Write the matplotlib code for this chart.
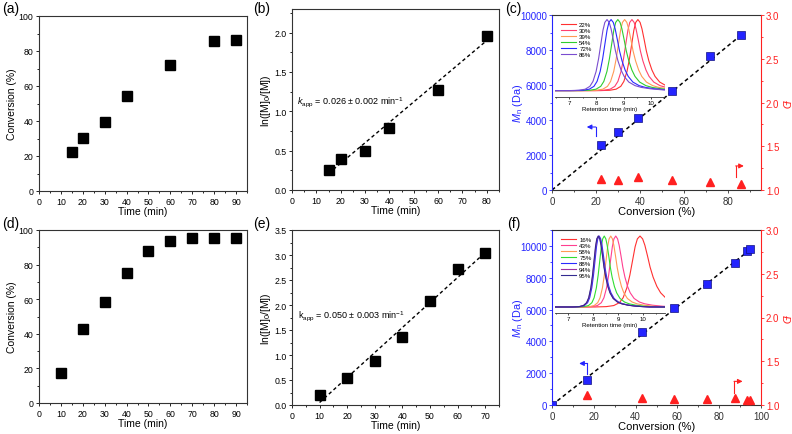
import numpy as np
import matplotlib
matplotlib.use('Agg')
from matplotlib import pyplot as plt
from matplotlib.ticker import MultipleLocator

plt.rcParams['font.family'] = ['Liberation Sans', 'DejaVu Sans']
plt.rcParams['mathtext.fontset'] = 'custom'
plt.rcParams['mathtext.rm'] = 'Liberation Sans'
plt.rcParams['mathtext.it'] = 'Liberation Sans:italic'

BLUE = '#2424ff'
RED = '#ff2020'

# ---- data ----
# (a) conversion vs time, run 1
time_a = [15, 20, 30, 40, 60, 80, 90]
conv_a = [22.4, 30.4, 39.2, 54.4, 71.9, 85.7, 86.5]
# (b) first order plot, run 1
time_b = [15, 20, 30, 40, 60, 80]
lnm_b = [0.25, 0.39, 0.50, 0.79, 1.27, 1.96]
fit_b = [0.026, -0.18]      # slope, intercept
fit_b_range = [15, 80]
# (c) Mn and dispersity vs conversion, run 1
conv_c = [22.4, 30.2, 39.2, 54.4, 71.9, 85.7]
mn_c = [2600, 3330, 4140, 5630, 7640, 8850]
disp_c = [1.13, 1.12, 1.15, 1.11, 1.09, 1.07]
mn_slope_c = 103
mn_range_c = [0, 86]
# GPC traces in (c) inset
gpc_c_labels = ['22%', '30%', '39%', '54%', '72%', '86%']
gpc_c_peaks = [9.53, 9.31, 9.04, 8.79, 8.54, 8.39]
gpc_c_widths = [1.15, 1.15, 1.15, 1.15, 1.15, 1.15]
gpc_c_colors = ['#ff3030', '#ff4070', '#ff9a55', '#30cc30', '#2a2aff', '#7a4ccf']

# (d) conversion vs time, run 2
time_d = [10, 20, 30, 40, 50, 60, 70, 80, 90]
conv_d = [17.6, 42.9, 58.6, 74.9, 88.0, 93.8, 95.4, 95.6, 95.6]
# (e) first order plot, run 2
time_e = [10, 20, 30, 40, 50, 60, 70]
lnm_e = [0.21, 0.55, 0.88, 1.37, 2.08, 2.73, 3.05]
fit_e = [0.050, -0.45]
fit_e_range = [10, 70]
# (f) Mn and dispersity vs conversion, run 2
conv_f_mn = [0, 16.6, 42.9, 58.6, 74.4, 87.5, 93.4, 94.6]
mn_f = [0, 1600, 4600, 6090, 7600, 8900, 9700, 9830]
conv_f_d = [16.9, 43.0, 58.2, 74.2, 87.4, 93.1, 94.8]
disp_f = [1.12, 1.08, 1.07, 1.065, 1.08, 1.055, 1.06]
mn_slope_f = 103
mn_range_f = [0, 95]
gpc_f_labels = ['16%', '43%', '58%', '75%', '88%', '94%', '95%']
gpc_f_peaks = [9.87, 8.90, 8.70, 8.44, 8.24, 8.21, 8.20]
gpc_f_widths = [1.5, 1.05, 0.95, 0.9, 0.85, 0.85, 0.85]
gpc_f_colors = ['#ff3030', '#ff3f90', '#ff9a55', '#30dd30', '#2a2aff', '#a030a0', '#332a90']

# normalised GPC peak shape (offset from peak in min, relative height)
gpc_offset = [-4.0, -1.2, -0.9, -0.7, -0.55, -0.45, -0.35, -0.27, -0.2, -0.13, -0.07, 0.0,
              0.07, 0.13, 0.2, 0.27, 0.35, 0.45, 0.55, 0.7, 0.9, 1.1, 1.4, 1.8, 2.4, 4.0]
gpc_height = [0.0, 0.0, 0.005, 0.02, 0.06, 0.13, 0.27, 0.45, 0.65, 0.85, 0.96, 1.0,
              0.96, 0.87, 0.72, 0.56, 0.42, 0.29, 0.2, 0.12, 0.07, 0.045, 0.025, 0.01, 0.0, 0.0]

fig = plt.figure(figsize=(7.92, 4.35), dpi=100)
W, H = 792.0, 435.0


def rect(l, t, r, b):
    return [l / W, 1 - b / H, (r - l) / W, (b - t) / H]


def style(ax, size=6.3):
    for s in ax.spines.values():
        s.set_color('#333333')
        s.set_linewidth(0.8)
    ax.tick_params(which='both', direction='out', labelsize=size, width=0.6, pad=1.5)
    ax.tick_params(which='major', length=2.5)
    ax.tick_params(which='minor', length=1.5)


def conv_panel(r, t, c):
    ax = fig.add_axes(r)
    style(ax)
    ax.plot(t, c, 's', color='black', ms=7)
    ax.set_xlim(0, 95)
    ax.set_ylim(0, 100)
    ax.xaxis.set_major_locator(MultipleLocator(10))
    ax.xaxis.set_minor_locator(MultipleLocator(5))
    ax.yaxis.set_major_locator(MultipleLocator(20))
    ax.yaxis.set_minor_locator(MultipleLocator(10))
    ax.set_xlabel('Time (min)', fontsize=7.5, labelpad=0)
    ax.set_ylabel('Conversion (%)', fontsize=7.5, labelpad=1)
    return ax


def lnm_panel(r, t, y, fit, frange, xmax, ymax, text, ty):
    ax = fig.add_axes(r)
    style(ax)
    fx = np.array(frange)
    ax.plot(fx, fit[0] * fx + fit[1], '--', color='black', lw=1, dashes=(2.5, 2))
    ax.plot(t, y, 's', color='black', ms=7)
    ax.set_xlim(0, xmax)
    ax.set_ylim(0, ymax)
    ax.xaxis.set_major_locator(MultipleLocator(10))
    ax.xaxis.set_minor_locator(MultipleLocator(5))
    ax.yaxis.set_major_locator(MultipleLocator(0.5))
    ax.yaxis.set_minor_locator(MultipleLocator(0.25))
    ax.yaxis.set_major_formatter('{x:.1f}')
    ax.set_xlabel('Time (min)', fontsize=7.5, labelpad=0)
    ax.set_ylabel('ln([M]$_0$/[M])', fontsize=7.5, labelpad=1)
    ax.text(2.1, ty, text, fontsize=6.5, va='center')
    return ax


def mn_panel(r, conv_mn, mn, conv_d, disp, slope, mrange, xmax, ymax, xstep):
    ax = fig.add_axes(r)
    style(ax, 7)
    ax.spines['left'].set_color(BLUE)
    ax.spines['right'].set_visible(False)
    ax.tick_params(axis='y', which='both', colors=BLUE, pad=1.2)
    ax.tick_params(axis='x', which='both', colors='#333333')
    mx = np.array(mrange)
    ax.plot(mx, slope * mx, '--', color='black', lw=1.1, dashes=(2.5, 2), zorder=2)
    ax.plot(conv_mn, mn, 's', color=BLUE, mec='#101080', mew=0.5, ms=5.6, zorder=3)
    ax.set_xlim(0, xmax)
    ax.set_ylim(0, ymax)
    ax.xaxis.set_major_locator(MultipleLocator(xstep))
    ax.xaxis.set_minor_locator(MultipleLocator(xstep / 2))
    ax.yaxis.set_major_locator(MultipleLocator(2000))
    ax.yaxis.set_minor_locator(MultipleLocator(1000))
    ax.set_xlabel('Conversion (%)', fontsize=8, labelpad=0)
    ax.set_ylabel('$\\mathit{M}_\\mathrm{n}$ (Da)', fontsize=7.8, color=BLUE)
    ax.yaxis.set_label_coords(-0.13, 0.5)

    ax2 = ax.twinx()
    style(ax2, 7)
    for s in ['left', 'top', 'bottom']:
        ax2.spines[s].set_visible(False)
    ax2.spines['right'].set_color(RED)
    ax2.tick_params(axis='y', which='both', colors=RED, pad=1.0)
    ax2.plot(conv_d, disp, '^', color=RED, ms=6)
    ax2.set_ylim(1.0, 3.0)
    ax2.yaxis.set_major_locator(MultipleLocator(0.5))
    ax2.yaxis.set_minor_locator(MultipleLocator(0.25))
    ax2.yaxis.set_major_formatter('{x:.1f}')
    ax2.set_ylabel('Đ', fontsize=7.8, color=RED, style='italic', rotation=270)
    ax2.yaxis.set_label_coords(1.14, 0.5)
    return ax, ax2


def gpc_inset(r, peaks, widths, colors, labels, xlim, ylim, leg_y):
    ins = fig.add_axes(r)
    ins.patch.set_alpha(0)
    for s in ['left', 'right', 'top']:
        ins.spines[s].set_visible(False)
    ins.spines['bottom'].set_color('#333333')
    ins.spines['bottom'].set_linewidth(0.6)
    off = np.array(gpc_offset)
    for p, w, c, lab in zip(peaks, widths, colors, labels):
        ins.plot(p + w * off, gpc_height, color=c, lw=0.8, label=lab)
    ins.set_xlim(*xlim)
    ins.set_ylim(*ylim)
    ins.set_yticks([])
    ins.xaxis.set_major_locator(MultipleLocator(1))
    ins.xaxis.set_minor_locator(MultipleLocator(0.5))
    ins.tick_params(which='both', direction='out', labelsize=4.4, width=0.5, pad=0.8)
    ins.tick_params(which='major', length=1.6)
    ins.tick_params(which='minor', length=1.0)
    ins.set_xlabel('Retention time (min)', fontsize=4.4, labelpad=0.3)
    ins.legend(loc='upper left', bbox_to_anchor=(0.02, leg_y), frameon=False, fontsize=4.4,
               handlelength=2.4, handletextpad=0.5, labelspacing=0.12, borderpad=0.2)
    return ins


# top row
conv_panel(rect(39, 17, 247, 192), time_a, conv_a)
lnm_panel(rect(292, 10, 499, 191), time_b, lnm_b, fit_b, fit_b_range, 85, 2.3,
          '$\\mathit{k}_\\mathrm{app}$ = 0.026 ± 0.002 min$^{-1}$', 1.13)
axc, axc2 = mn_panel(rect(552, 16, 761, 191), conv_c, mn_c, conv_c, disp_c,
                     mn_slope_c, mn_range_c, 95, 10000, 20)
gpc_inset(rect(555, 17, 665, 98), gpc_c_peaks, gpc_c_widths, gpc_c_colors, gpc_c_labels,
          (6.47, 10.53), (-0.09, 1.05), 0.98)

# bottom row
conv_panel(rect(39, 231, 247, 404), time_d, conv_d)
lnm_panel(rect(292, 231, 499, 406), time_e, lnm_e, fit_e, fit_e_range, 75, 3.5,
          'k$_\\mathrm{app}$ = 0.050 ± 0.003 min$^{-1}$', 1.8)
axf, axf2 = mn_panel(rect(552, 231, 761, 406), conv_f_mn, mn_f, conv_f_d, disp_f,
                     mn_slope_f, mn_range_f, 100, 11000, 20)
gpc_inset(rect(555, 231, 665, 314), gpc_f_peaks, gpc_f_widths, gpc_f_colors, gpc_f_labels,
          (6.47, 10.87), (-0.085, 1.085), 0.97)

# axis indicator arrows
arrow_kw = dict(lw=0.8, mutation_scale=7, shrinkA=0, shrinkB=0)
axc.plot([19.9, 19.9], [3100, 3600], color=BLUE, lw=0.8)
axc.annotate('', xy=(15.8, 3600), xytext=(19.9, 3600),
             arrowprops=dict(arrowstyle='-|>', color=BLUE, **arrow_kw))
axc2.plot([83.5, 83.5], [1.15, 1.275], color=RED, lw=0.8)
axc2.annotate('', xy=(87.2, 1.275), xytext=(83.5, 1.275),
              arrowprops=dict(arrowstyle='-|>', color=RED, **arrow_kw))
axf.plot([16.8, 16.8], [1930, 2610], color=BLUE, lw=0.8)
axf.annotate('', xy=(13.0, 2610), xytext=(16.8, 2610),
             arrowprops=dict(arrowstyle='-|>', color=BLUE, **arrow_kw))
axf2.plot([87.1, 87.1], [1.14, 1.27], color=RED, lw=0.8)
axf2.annotate('', xy=(91.2, 1.27), xytext=(87.1, 1.27),
              arrowprops=dict(arrowstyle='-|>', color=RED, **arrow_kw))

# panel letters
for lab, x, y in [('(a)', 2, 9), ('(b)', 253, 9), ('(c)', 505, 9),
                  ('(d)', 2, 224), ('(e)', 253, 224), ('(f)', 507, 224)]:
    fig.text(x / W, 1 - y / H, lab, fontsize=10, va='center', ha='left')

plt.savefig('out.png', dpi=100)
